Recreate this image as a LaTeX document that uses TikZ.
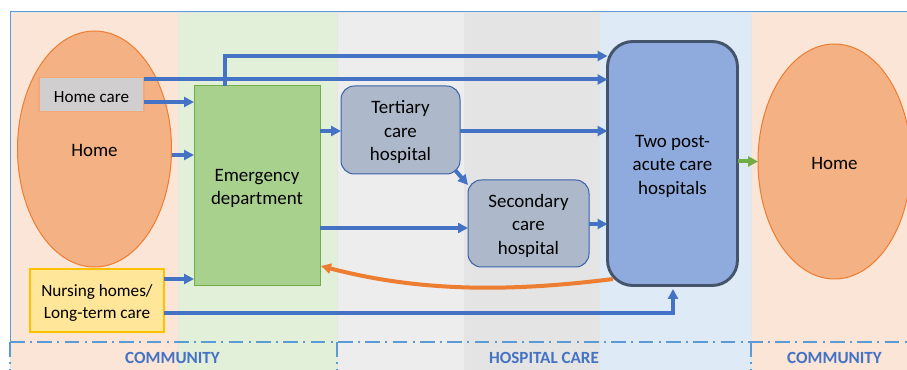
\documentclass[tikz,border=0pt]{standalone}
\usepackage{fontspec}
\setmainfont{Carlito}
\usetikzlibrary{arrows.meta,shapes.geometric}
\definecolor{peach}{HTML}{FBE5D6}
\definecolor{lgreen}{HTML}{E2F0D9}
\definecolor{gray1}{HTML}{EDEDED}
\definecolor{gray2}{HTML}{E4E4E4}
\definecolor{lblue}{HTML}{DEEAF6}
\definecolor{homefill}{HTML}{F4B183}
\definecolor{orangeline}{HTML}{ED7D31}
\definecolor{flowblue}{HTML}{4472C4}
\definecolor{flowgreen}{HTML}{70AD47}
\definecolor{dashblue}{HTML}{5B9BD5}
\definecolor{hospfill}{HTML}{ADB9CA}
\definecolor{edfill}{HTML}{A9D18E}
\definecolor{postfill}{HTML}{8FAADC}
\definecolor{postline}{HTML}{44546A}
\definecolor{nursefill}{HTML}{FFE699}
\definecolor{nurseline}{HTML}{FFC000}
\definecolor{carefill}{HTML}{D0CECE}
\newcommand{\lowerby}[1]{\rule{0pt}{#1}}
\tikzset{
 band/.style={draw=black!10,line width=0.6pt,fill=#1},
 boxbase/.style={inner sep=0pt,outer sep=0pt,align=center,text=black,font=\fontsize{14.2pt}{17.6pt}\selectfont},
 homeshape/.style={boxbase,ellipse,draw=orangeline,fill=homefill,line width=0.75pt},
 hospbox/.style={boxbase,rectangle,rounded corners=10pt,draw=flowblue!85!black,fill=hospfill,line width=0.75pt},
 flowtip/.style={-{Triangle[length=7.5pt,width=7.5pt]}},
 flow/.style={draw=flowblue,line width=3pt,flowtip},
 greenflow/.style={draw=flowgreen,line width=3pt,flowtip},
 orangeflow/.style={draw=orangeline,line width=3pt,flowtip},
 sep/.style={draw=dashblue,line width=1pt,dash pattern=on 11pt off 4pt on 1.5pt off 4pt},
 zonelabel/.style={inner sep=0pt,font=\fontsize{12.8pt}{15pt}\selectfont\bfseries,text=flowblue},
}
\begin{document}
\begin{tikzpicture}[x=0.75pt,y=-0.75pt]
\useasboundingbox (0,0) rectangle (907,370);
\fill[white] (0,0) rectangle (907,370);
\path[band=peach] (10,12) rectangle (178,370);
\path[band=lgreen] (178,12) rectangle (337,370);
\path[band=gray1] (337,12) rectangle (464,370);
\path[band=gray2] (464,12) rectangle (599,370);
\path[band=lblue] (599,12) rectangle (751,370);
\path[band=peach] (751,12) rectangle (908,370);
\draw[dashblue,line width=0.75pt] (10,342) -- (10,12) -- (907,12);

\node[homeshape,minimum width=154*0.75pt,minimum height=236*0.75pt] (home1) at (94.5,149) {\lowerby{11.5pt}Home};
\node[homeshape,minimum width=153*0.75pt,minimum height=235*0.75pt] (home2) at (834.5,161.5) {\lowerby{11.5pt}Home};
\node[boxbase,draw=homefill!85!orangeline,fill=carefill,line width=1pt,minimum width=105*0.75pt,minimum height=34*0.75pt,font=\fontsize{12.8pt}{15pt}\selectfont] (homecare) at (91.5,94.5) {\lowerby{12pt}Home care};
\node[boxbase,draw=flowgreen,fill=edfill,minimum width=126*0.75pt,minimum height=200*0.75pt,line width=0.75pt] (ed) at (257,186) {\lowerby{13pt}Emergency\\department};
\node[hospbox,minimum width=119*0.75pt,minimum height=88*0.75pt] (tert) at (400.5,130) {\lowerby{13pt}Tertiary\\care\\hospital};
\node[hospbox,minimum width=121*0.75pt,minimum height=87*0.75pt] (sec) at (528.5,223.5) {\lowerby{13pt}Secondary\\care\\hospital};
\node[boxbase,rectangle,rounded corners=19pt,draw=postline,fill=postfill,line width=2.2pt,minimum width=130*0.75pt,minimum height=244*0.75pt] (post) at (672.5,163.5) {\lowerby{13pt}Two post-\\acute care\\hospitals};
\node[boxbase,draw=nurseline,fill=nursefill,line width=1pt,minimum width=134*0.75pt,minimum height=63*0.75pt,font=\fontsize{12.9pt}{16pt}\selectfont] (nursing) at (97,300.5) {\lowerby{12.5pt}Nursing homes/\\Long-term care};

\coordinate (y1) at (0,79.5);
\coordinate (y2) at (0,102);
\coordinate (y3) at (0,155);
\coordinate (y4) at (0,131);
\coordinate (y5) at (0,228);
\coordinate (y6) at (0,224);
\coordinate (y7) at (0,161.5);
\coordinate (y8) at (0,279);
\coordinate (y9) at (0,313);
\coordinate (y10) at (0,56);
\coordinate (x1) at (225,0);
\coordinate (x2) at (673,0);
\coordinate (x3) at (673,289);
\coordinate (ts1) at (455,170);
\coordinate (ts2) at (468,185);

\draw[flow] (homecare.east |- y1) -- (post.west |- y1);
\draw[flow] (homecare.east |- y2) -- (ed.west |- y2);
\draw[flow] (home1.east |- y3) -- (ed.west |- y3);
\draw[flow] (x1 |- ed.north) -- (x1 |- y10) -- (post.west |- y10);
\draw[flow] (ed.east |- y4) -- (tert.west |- y4);
\draw[flow] (tert.east |- y4) -- (post.west |- y4);
\draw[flow] (ts1) -- (ts2);
\draw[flow] (ed.east |- y5) -- (sec.west |- y5);
\draw[flow] (sec.east |- y6) -- (post.west |- y6);
\draw[greenflow] (post.east |- y7) -- (home2.west |- y7);
\draw[flow] (nursing.east |- y8) -- (ed.west |- y8);
\draw[flow] (nursing.east |- y9) -- (x2 |- y9) -- (x3);
\coordinate (o1) at (613,279);
\coordinate (o2) at (321,266);
\draw[orangeflow] (o1) .. controls (510,292) and (420,292) .. (o2);

\draw[sep] (10,342) -- (907,342);
\draw[sep] (10,342) -- (10,370);
\draw[sep] (337,342) -- (337,370);
\draw[sep] (751,342) -- (751,370);
\node[zonelabel] (z1) at (172.5,358) {COMMUNITY};
\node[zonelabel] (z2) at (544,358) {HOSPITAL CARE};
\node[zonelabel] (z3) at (834.5,358) {COMMUNITY};
\end{tikzpicture}
\end{document}
